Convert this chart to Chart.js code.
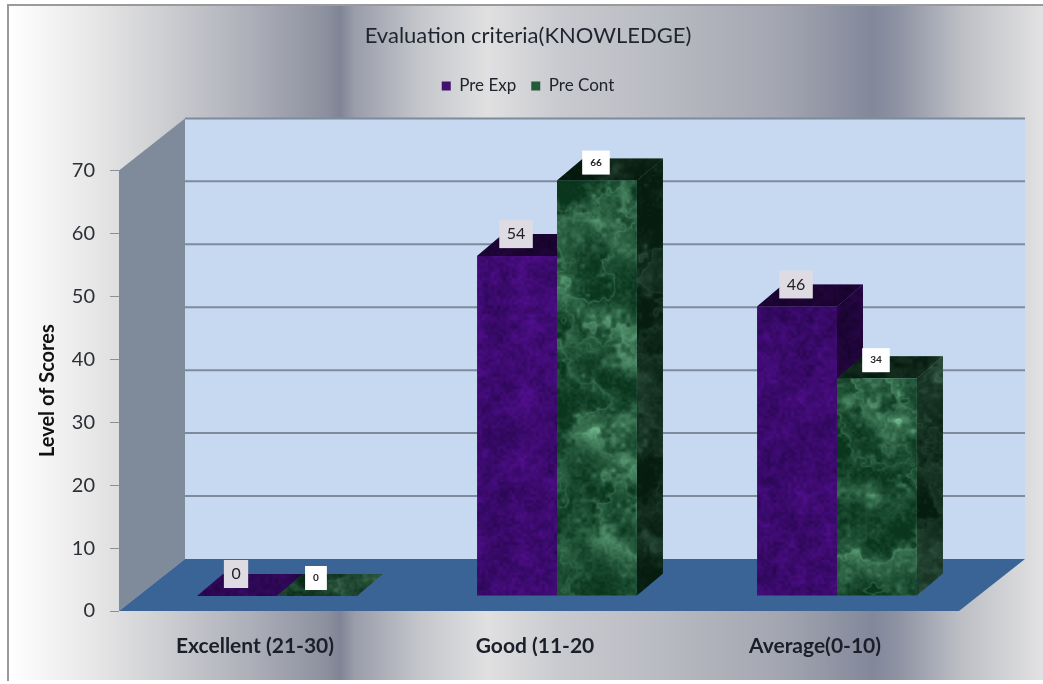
<!DOCTYPE html>
<html>
<head>
<meta charset="utf-8">
<title>Evaluation criteria(KNOWLEDGE)</title>
<style>
body { margin: 0; background: #fff; }
canvas { display: block; }
</style>
<script src="https://cdn.jsdelivr.net/npm/chart.js@4/dist/chart.umd.min.js"></script>
</head>
<body>
<canvas id="scoreChart" width="1043" height="684"></canvas>
<script>
// chart data
const categories = ['Excellent (21-30)', 'Good (11-20', 'Average(0-10)'];
const preExp = [0, 54, 46];
const preCont = [0, 66, 34];
const barHeights = [[0, 54, 46], [0, 66, 34.6]];
const yTicks = [0, 10, 20, 30, 40, 50, 60, 70];

// 3d look of the old spreadsheet chart
const wallX = 66, wallY = 52;
const barShiftX = 18, barShiftY = 15;
const depthX = 26, depthY = 22;
const legendColors = ['#43106f', '#24593a'];

function hash(x, y, s) {
    var t = Math.sin(x * 127.1 + y * 311.7 + s * 74.7) * 43758.5453;
    return t - Math.floor(t);
}

function noise(x, y, s) {
    var ix = Math.floor(x), iy = Math.floor(y);
    var fx = x - ix, fy = y - iy;
    fx = fx * fx * (3 - 2 * fx);
    fy = fy * fy * (3 - 2 * fy);
    var a = hash(ix, iy, s) + (hash(ix + 1, iy, s) - hash(ix, iy, s)) * fx;
    var b = hash(ix, iy + 1, s) + (hash(ix + 1, iy + 1, s) - hash(ix, iy + 1, s)) * fx;
    return a + (b - a) * fy;
}

// marble texture for the bars, shade(x, y) gives 0..1
function makeTexture(w, h, dark, light, shade) {
    const c = document.createElement('canvas');
    c.width = w;
    c.height = h;
    const tctx = c.getContext('2d');
    const img = tctx.createImageData(w, h);
    for (let y = 0; y < h; y++) {
        for (let x = 0; x < w; x++) {
            const v = Math.max(0, Math.min(1, shade(x, y)));
            const p = (y * w + x) * 4;
            img.data[p] = dark[0] + (light[0] - dark[0]) * v;
            img.data[p + 1] = dark[1] + (light[1] - dark[1]) * v;
            img.data[p + 2] = dark[2] + (light[2] - dark[2]) * v;
            img.data[p + 3] = 255;
        }
    }
    tctx.putImageData(img, 0, 0);
    return c;
}

const purpleTile = makeTexture(1043, 684, [40, 6, 80], [86, 16, 150], function(x, y) {
    return noise(x / 30, y / 30, 1) * 0.35 + noise(x / 9, y / 9, 2) * 0.35 + noise(x / 3, y / 3, 3) * 0.4 - 0.1;
});

const greenTile = makeTexture(1043, 684, [10, 54, 30], [125, 200, 155], function(x, y) {
    const cloud = noise(x / 34, y / 34, 4) * 0.5 + noise(x / 14, y / 14, 5) * 0.3 + noise(x / 5, y / 5, 6) * 0.2;
    const wx = x + cloud * 90, wy = y + cloud * 90;
    const ridge = 1 - Math.abs(2 * noise(wx / 38, wy / 38, 7) - 1);
    return Math.pow(ridge, 4) * 0.28 + Math.pow(cloud, 2.4) * 0.9 + noise(x / 2.5, y / 2.5, 8) * 0.12 - 0.12;
});

const ctx = document.getElementById('scoreChart').getContext('2d');
const purplePattern = ctx.createPattern(purpleTile, 'repeat');
const greenPattern = ctx.createPattern(greenTile, 'repeat');

function poly(c, pts, fill) {
    c.beginPath();
    c.moveTo(pts[0][0], pts[0][1]);
    for (let i = 1; i < pts.length; i++) c.lineTo(pts[i][0], pts[i][1]);
    c.closePath();
    c.fillStyle = fill;
    c.fill();
}

const stage3d = {
    id: 'stage3d',
    beforeInit(chart) {
        // room between the legend and the plot
        const fit = chart.legend.fit;
        chart.legend.fit = function() {
            fit.call(chart.legend);
            this.height += 66;
        };
    },
    beforeDraw(chart) {
        const c = chart.ctx;
        const a = chart.chartArea;
        const y = chart.scales.y;

        // page frame with the chrome gradient
        c.save();
        c.fillStyle = '#fff';
        c.fillRect(0, 0, chart.width, chart.height);
        const g = c.createLinearGradient(8, 0, 1043, 0);
        const stops = [[8, '#ffffff'], [90, '#e8e8e8'], [160, '#cfd0d3'], [250, '#adafb9'], [325, '#8d919f'],
            [340, '#7f8596'], [355, '#9a9daa'], [420, '#c4c6cb'], [487, '#e0e0e1'], [560, '#c9cacf'],
            [660, '#b9bbc2'], [780, '#a3a6b1'], [873, '#82889a'], [900, '#8f94a4'], [960, '#bcbec4'], [1043, '#e2e2e3']];
        stops.forEach(function(s) {
            g.addColorStop((s[0] - 8) / 1035, s[1]);
        });
        c.fillStyle = g;
        c.fillRect(8, 5, 1035, 675);
        c.fillStyle = '#9a9a9a';
        c.fillRect(7, 4, 1036, 2);
        c.fillRect(7, 4, 2, 677);

        // side wall, back wall, floor
        const top = y.getPixelForValue(70), zero = y.getPixelForValue(0);
        poly(c, [[a.left, top], [a.left + wallX, top - wallY], [a.left + wallX, zero - wallY], [a.left, zero]], '#7f8b9b');
        poly(c, [[a.left + wallX, top - wallY], [a.right + wallX, top - wallY], [a.right + wallX, zero - wallY], [a.left + wallX, zero - wallY]], '#c6d9f1');
        c.strokeStyle = '#7d8b9c';
        c.lineWidth = 2;
        yTicks.forEach(function(t) {
            if (t === 0) return;
            const py = y.getPixelForValue(t) - wallY;
            c.beginPath();
            c.moveTo(a.left + wallX, py);
            c.lineTo(a.right + wallX, py);
            c.stroke();
        });
        poly(c, [[a.left, zero], [a.left + wallX, zero - wallY], [a.right + wallX, zero - wallY], [a.right, zero]], '#3a6496');
        c.restore();
    },
    beforeDatasetsDraw(chart) {
        const c = chart.ctx;
        c.save();
        // bar sides and tops go first, the library paints the fronts over them
        [0, 1].forEach(function(ds) {
            const pattern = ds === 0 ? purplePattern : greenPattern;
            chart.getDatasetMeta(ds).data.forEach(function(bar) {
                const l = bar.x - bar.width / 2 + barShiftX, r = bar.x + bar.width / 2 + barShiftX;
                const t = bar.y - barShiftY, b = bar.base - barShiftY;
                const side = [[r, t], [r + depthX, t - depthY], [r + depthX, b - depthY], [r, b]];
                const topFace = [[l, t], [l + depthX, t - depthY], [r + depthX, t - depthY], [r, t]];
                poly(c, side, pattern);
                poly(c, side, 'rgba(0,0,0,0.48)');
                poly(c, topFace, pattern);
                poly(c, topFace, t === b ? 'rgba(0,0,0,0.25)' : 'rgba(0,0,0,0.55)');
            });
        });
        c.restore();
        c.save();
        c.translate(barShiftX, -barShiftY);
    },
    afterDatasetsDraw(chart) {
        const c = chart.ctx;
        c.restore();
        // value boxes above the bars
        c.save();
        c.textAlign = 'center';
        c.textBaseline = 'middle';
        [0, 1].forEach(function(ds) {
            const values = chart.data.datasets[ds].labelValues;
            chart.getDatasetMeta(ds).data.forEach(function(bar, i) {
                const cx = bar.x + barShiftX - 1;
                const cy = bar.y - barShiftY - (ds === 0 ? 22 : 18);
                const text = String(values[i]);
                c.font = ds === 0 ? '16px Lato' : 'bold 10px Lato';
                const w = c.measureText(text).width + (ds === 0 ? 15 : 16);
                const h = ds === 0 ? 28 : 24;
                c.fillStyle = ds === 0 ? '#dedbe2' : '#ffffff';
                c.fillRect(cx - w / 2, cy - h / 2, w, h);
                c.fillStyle = '#222';
                c.fillText(text, cx, cy);
            });
        });
        c.restore();
    }
};

new Chart(ctx, {
    type: 'bar',
    plugins: [stage3d],
    data: {
        labels: categories,
        datasets: [
            { label: 'Pre Exp', data: barHeights[0], labelValues: preExp, backgroundColor: purplePattern, clip: false },
            { label: 'Pre Cont', data: barHeights[1], labelValues: preCont, backgroundColor: greenPattern, clip: false }
        ]
    },
    options: {
        responsive: false,
        animation: false,
        layout: { padding: { left: 13, right: 0, top: 0, bottom: 0 } },
        categoryPercentage: 0.571,
        barPercentage: 1,
        plugins: {
            tooltip: { enabled: false },
            title: {
                display: true,
                text: 'Evaluation criteria(KNOWLEDGE)',
                color: '#1f2530',
                font: { family: 'Lato', size: 22, weight: 'normal' },
                padding: { top: 23, bottom: 13 }
            },
            legend: {
                position: 'top',
                labels: {
                    color: '#20242e',
                    font: { family: 'Lato', size: 17 },
                    boxWidth: 9,
                    boxHeight: 9,
                    padding: 15,
                    generateLabels: function(chart) {
                        return chart.data.datasets.map(function(d, i) {
                            return { text: d.label, fillStyle: legendColors[i], strokeStyle: legendColors[i], lineWidth: 0, datasetIndex: i, fontColor: '#20242e' };
                        });
                    }
                }
            }
        },
        scales: {
            x: {
                grid: { display: false },
                border: { display: false },
                afterFit: function(s) { s.height = 73; },
                ticks: {
                    color: '#1a1f2a',
                    font: { family: 'Lato', size: 21, weight: 'bold' },
                    padding: 15,
                    labelOffset: -4,
                    maxRotation: 0
                }
            },
            y: {
                min: 0,
                max: 70,
                afterFit: function(s) { s.width = 106; },
                afterBuildTicks: function(s) { s.ticks = yTicks.map(function(v) { return { value: v }; }); },
                border: { display: false },
                grid: { drawOnChartArea: false, tickLength: 9, color: '#8a8f9a' },
                ticks: {
                    color: '#2b2f36',
                    font: { family: 'Lato', size: 20 },
                    padding: 15
                },
                title: {
                    display: true,
                    text: 'Level of Scores',
                    color: '#111',
                    font: { family: 'Lato', size: 20, weight: 'bold' },
                    padding: { top: 23, bottom: 0 }
                }
            },
            // empty right gutter, keeps the title centred on the whole frame
            gutter: {
                type: 'linear',
                position: 'right',
                display: true,
                min: 0,
                max: 70,
                afterFit: function(s) { s.width = 84; },
                grid: { display: false },
                border: { display: false },
                ticks: { display: false }
            }
        }
    }
});
</script>
</body>
</html>
